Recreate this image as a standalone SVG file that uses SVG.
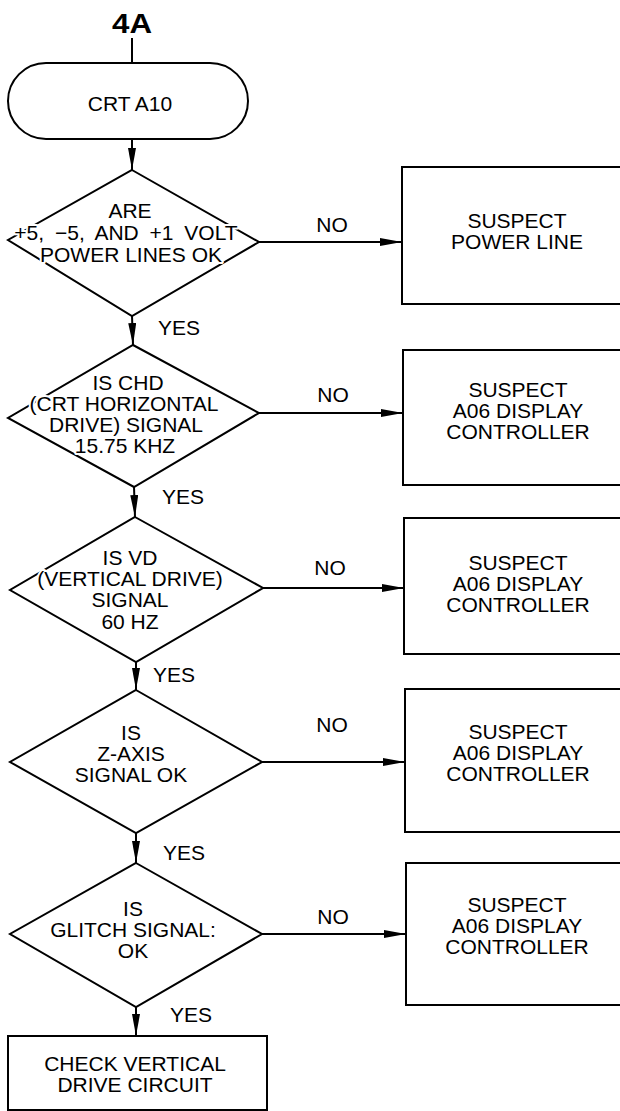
<svg xmlns="http://www.w3.org/2000/svg" width="620" height="1111" viewBox="0 0 620 1111">
<defs>
<style>
text{font-family:"Liberation Sans",Arial,sans-serif;font-size:21px;fill:#000}
.c{text-anchor:middle}
.h{stroke:#fff;stroke-width:4px;paint-order:stroke;stroke-linejoin:round}
.s{fill:#fff;stroke:#000;stroke-width:2}
.ln{fill:none;stroke:#000;stroke-width:2}
.t{font-weight:bold;font-size:28px}
</style>
<marker id="ah" markerUnits="userSpaceOnUse" viewBox="0 0 22 8" refX="22" refY="4" markerWidth="22" markerHeight="8" orient="auto">
<path d="M0,0 L22,4 L0,8 z" fill="#000"/>
</marker>
</defs>
<rect width="620" height="1111" fill="#fff"/>
<text class="c t" x="132" y="33" textLength="40" lengthAdjust="spacingAndGlyphs">4A</text>
<g id="connectors">
<line class="ln" x1="132" y1="38" x2="132" y2="63"/>
<line class="ln" x1="132" y1="139" x2="132" y2="170" marker-end="url(#ah)"/>
<line class="ln" x1="132" y1="316" x2="133" y2="345" marker-end="url(#ah)"/>
<line class="ln" x1="134" y1="487" x2="135" y2="517" marker-end="url(#ah)"/>
<line class="ln" x1="136" y1="662" x2="136" y2="690" marker-end="url(#ah)"/>
<line class="ln" x1="136" y1="833" x2="136" y2="863" marker-end="url(#ah)"/>
<line class="ln" x1="136" y1="1007" x2="136" y2="1036" marker-end="url(#ah)"/>
<line class="ln" x1="259" y1="242" x2="402" y2="242" marker-end="url(#ah)"/>
<line class="ln" x1="259" y1="413" x2="403" y2="413" marker-end="url(#ah)"/>
<line class="ln" x1="263" y1="588" x2="404" y2="588" marker-end="url(#ah)"/>
<line class="ln" x1="262" y1="762" x2="405" y2="762" marker-end="url(#ah)"/>
<line class="ln" x1="262" y1="934" x2="406" y2="934" marker-end="url(#ah)"/>
<text x="158" y="335">YES</text>
<text x="162" y="504">YES</text>
<text x="153" y="682">YES</text>
<text x="163" y="860">YES</text>
<text x="170" y="1022">YES</text>
<text class="c" x="332" y="232">NO</text>
<text class="c" x="333" y="402">NO</text>
<text class="c" x="330" y="575">NO</text>
<text class="c" x="332" y="732">NO</text>
<text class="c" x="333" y="924">NO</text>
</g>
<g id="start">
<rect class="s" x="8" y="63" width="240" height="76" rx="38" ry="38"/>
<text class="c" x="130" y="111">CRT A10</text>
</g>
<g id="d1">
<polygon class="s" points="132,170 259,242 132,316 8,240"/>
<text class="c h" x="130" y="218">ARE</text>
<text class="c h" x="126" y="240" word-spacing="5">+5, −5, AND +1 VOLT</text>
<text class="c h" x="131" y="262">POWER LINES OK</text>
</g>
<g id="d2">
<polygon class="s" points="133,345 259,413 134,487 8,418"/>
<text class="c h" x="128" y="390">IS CHD</text>
<text class="c h" x="124" y="411">(CRT HORIZONTAL</text>
<text class="c h" x="126" y="432">DRIVE) SIGNAL</text>
<text class="c h" x="125" y="453">15.75 KHZ</text>
</g>
<g id="d3">
<polygon class="s" points="135,517 263,588 136,662 10,590"/>
<text class="c h" x="130" y="565">IS VD</text>
<text class="c h" x="130" y="586">(VERTICAL DRIVE)</text>
<text class="c h" x="130" y="607">SIGNAL</text>
<text class="c h" x="130" y="629">60 HZ</text>
</g>
<g id="d4">
<polygon class="s" points="136,690 262,762 136,833 10,762"/>
<text class="c h" x="131" y="740">IS</text>
<text class="c h" x="131" y="761">Z-AXIS</text>
<text class="c h" x="131" y="782">SIGNAL OK</text>
</g>
<g id="d5">
<polygon class="s" points="136,863 262,934 136,1007 10,934"/>
<text class="c h" x="133" y="916">IS</text>
<text class="c h" x="133" y="937">GLITCH SIGNAL:</text>
<text class="c h" x="133" y="958">OK</text>
</g>
<g id="b1">
<rect class="s" x="402" y="167" width="240" height="137"/>
<text class="c" x="517" y="228">SUSPECT</text>
<text class="c" x="517" y="249">POWER LINE</text>
</g>
<g id="b2">
<rect class="s" x="403" y="350" width="240" height="135"/>
<text class="c" x="518" y="397">SUSPECT</text>
<text class="c" x="518" y="418">A06 DISPLAY</text>
<text class="c" x="518" y="439">CONTROLLER</text>
</g>
<g id="b3">
<rect class="s" x="404" y="518" width="240" height="136"/>
<text class="c" x="518" y="570">SUSPECT</text>
<text class="c" x="518" y="591">A06 DISPLAY</text>
<text class="c" x="518" y="612">CONTROLLER</text>
</g>
<g id="b4">
<rect class="s" x="405" y="689" width="240" height="143"/>
<text class="c" x="518" y="739">SUSPECT</text>
<text class="c" x="518" y="760">A06 DISPLAY</text>
<text class="c" x="518" y="781">CONTROLLER</text>
</g>
<g id="b5">
<rect class="s" x="406" y="863" width="240" height="142"/>
<text class="c" x="517" y="912">SUSPECT</text>
<text class="c" x="517" y="933">A06 DISPLAY</text>
<text class="c" x="517" y="954">CONTROLLER</text>
</g>
<g id="end">
<rect class="s" x="8" y="1036" width="259" height="74"/>
<text class="c" x="135" y="1071">CHECK VERTICAL</text>
<text class="c" x="135" y="1092">DRIVE CIRCUIT</text>
</g>
</svg>
